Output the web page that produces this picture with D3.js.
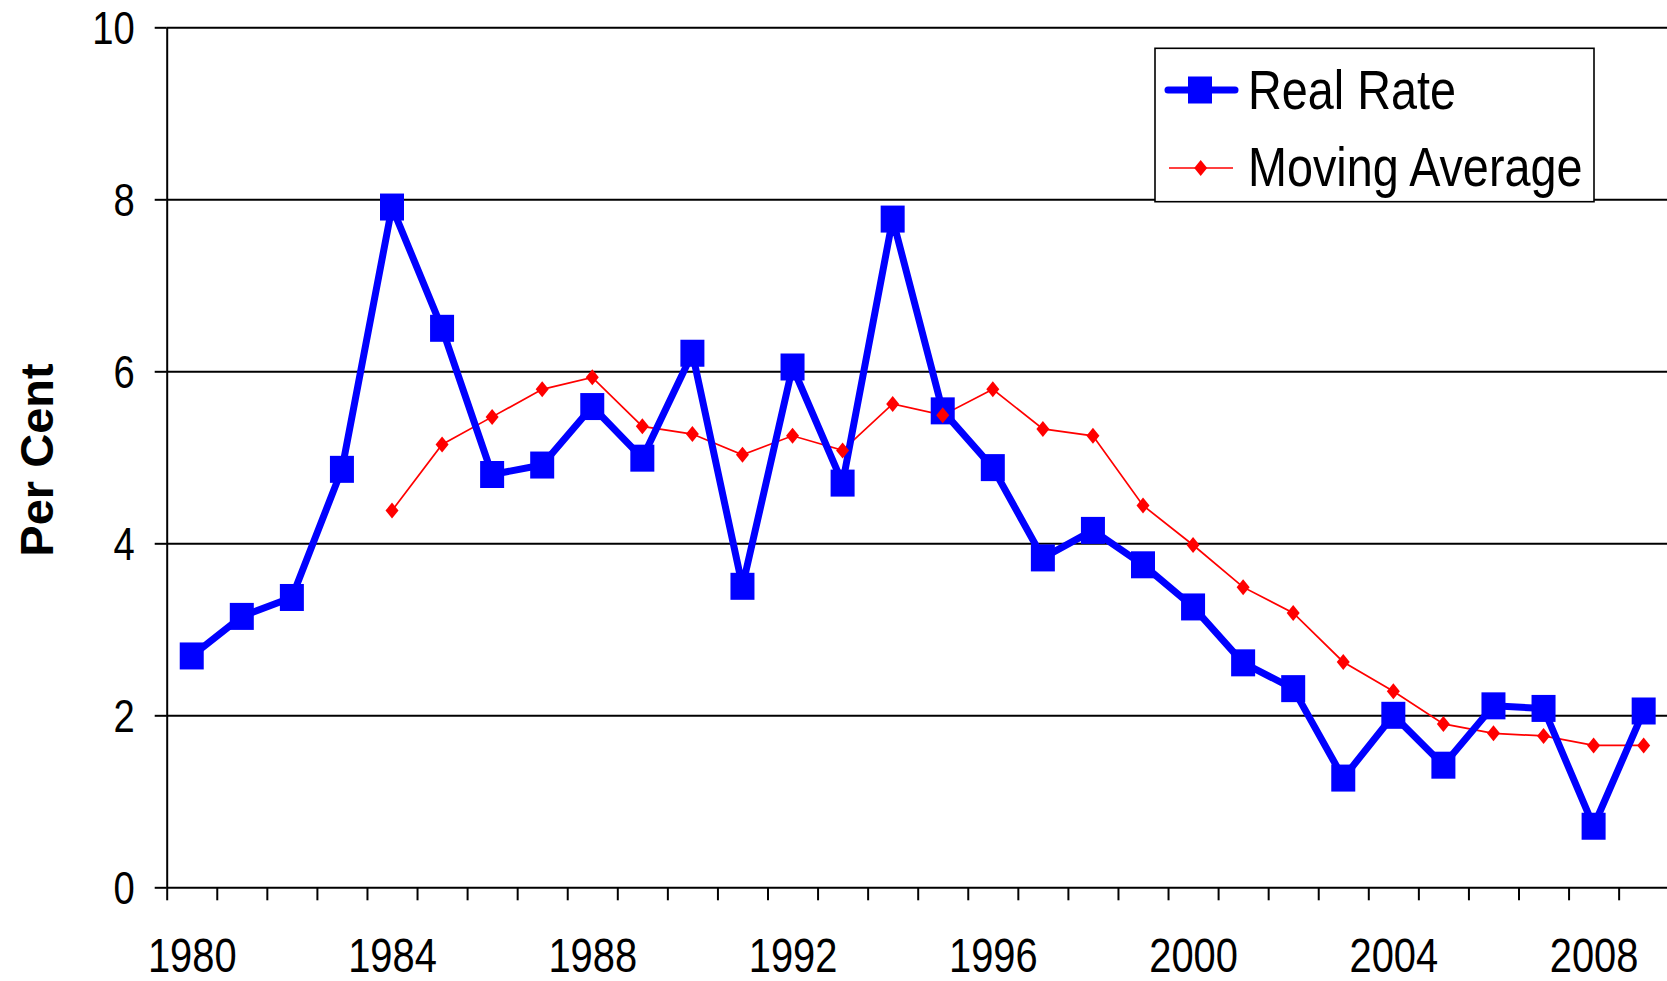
<!DOCTYPE html>
<html>
<head>
<meta charset="utf-8">
<script src="https://cdn.jsdelivr.net/npm/d3@7"></script>
<style>
  body { margin: 0; background: #fff; }
  .tick text { font-family: 'Liberation Sans Narrow', 'Liberation Sans', Arial, sans-serif; fill: #000; }
  .legend text { font-family: 'Liberation Sans Narrow', 'Liberation Sans', Arial, sans-serif; }
</style>
</head>
<body>
<div id="chart"></div>
<script>
const years = d3.range(1980, 2010);
const realRate = [2.69, 3.15, 3.37, 4.86, 7.91, 6.50, 4.80, 4.91, 5.59, 4.99,
                  6.21, 3.50, 6.05, 4.70, 7.77, 5.54, 4.88, 3.83, 4.15, 3.75,
                  3.26, 2.61, 2.31, 1.27, 2.00, 1.42, 2.11, 2.08, 0.71, 2.05];
const maYears = d3.range(1984, 2010);
const movingAvg = [4.38, 5.15, 5.47, 5.79, 5.93, 5.36, 5.27, 5.03, 5.25, 5.08,
                   5.62, 5.49, 5.79, 5.33, 5.25, 4.44, 3.98, 3.49, 3.19, 2.62,
                   2.28, 1.90, 1.79, 1.76, 1.65, 1.65];
const yTicks = [0, 2, 4, 6, 8, 10];
const xLabels = [1980, 1984, 1988, 1992, 1996, 2000, 2004, 2008];

const W = 1667, H = 981;
const margin = {top: 27.3, right: 0, bottom: 94, left: 166.7};
const width = 1502;
const height = 860;

// squeeze text horizontally to mimic a narrow face
function narrow(sel, k = 0.83) {
  sel.each(function() {
    const len = this.getComputedTextLength();
    d3.select(this)
      .attr('textLength', len * k)
      .attr('lengthAdjust', 'spacingAndGlyphs');
  });
}

const svg = d3.select('#chart').append('svg')
  .attr('width', W)
  .attr('height', H);

const g = svg.append('g')
  .attr('transform', `translate(${margin.left},${margin.top})`);

const x = d3.scaleLinear().domain([1979.5, 2009.5]).range([0, width]);
const y = d3.scaleLinear().domain([0, 10]).range([height, 0]);

// gridlines
g.append('g')
  .attr('class', 'grid')
  .call(d3.axisLeft(y).tickValues(yTicks.slice(1)).tickSize(-width).tickFormat(''))
  .call(s => s.select('.domain').remove())
  .selectAll('line')
    .attr('stroke', '#000')
    .attr('stroke-width', 2);

// y axis
g.append('g')
  .call(d3.axisLeft(y).tickValues(yTicks).tickSize(12).tickSizeOuter(0).tickPadding(20))
  .call(s => s.select('.domain').attr('stroke-width', 2))
  .call(s => s.selectAll('.tick line').attr('stroke-width', 2))
  .call(s => s.selectAll('.tick text').attr('font-size', 46).attr('dy', '0.36em').call(narrow));

// x axis ticks at category boundaries
g.append('g')
  .attr('transform', `translate(0,${height})`)
  .call(d3.axisBottom(x).tickValues(d3.range(1979.5, 2010, 1)).tickSize(13).tickSizeOuter(0).tickFormat(''))
  .call(s => s.select('.domain').attr('stroke-width', 2))
  .call(s => s.selectAll('.tick line').attr('stroke-width', 2));

// x labels
g.append('g')
  .attr('transform', `translate(0,${height})`)
  .call(d3.axisBottom(x).tickValues(xLabels).tickSize(0).tickFormat(d3.format('d')))
  .call(s => s.select('.domain').remove())
  .selectAll('text')
    .attr('font-size', 48)
    .attr('y', 85)
    .attr('dy', 0)
    .call(narrow);

// y title
svg.append('text')
  .attr('transform', 'translate(53,460) rotate(-90)')
  .attr('text-anchor', 'middle')
  .attr('font-family', "'Liberation Sans', Arial, sans-serif")
  .attr('font-weight', 'bold')
  .attr('font-size', 47)
  .text('Per Cent');

const realData = years.map((yr, i) => ({yr, v: realRate[i]}));
const maData = maYears.map((yr, i) => ({yr, v: movingAvg[i]}));

const line = d3.line().x(d => x(d.yr)).y(d => y(d.v));

const diamond = 'M0,-8L6.5,0L0,8L-6.5,0Z';

// moving average
g.append('path')
  .datum(maData)
  .attr('fill', 'none')
  .attr('stroke', '#ff0000')
  .attr('stroke-width', 1.7)
  .attr('d', line);

// real rate
g.append('path')
  .datum(realData)
  .attr('fill', 'none')
  .attr('stroke', '#0000ff')
  .attr('stroke-width', 7)
  .attr('stroke-linejoin', 'round')
  .attr('d', line);

g.selectAll('.sq')
  .data(realData)
  .enter().append('rect')
    .attr('class', 'sq')
    .attr('x', d => x(d.yr) - 12)
    .attr('y', d => y(d.v) - 13.5)
    .attr('width', 24)
    .attr('height', 27)
    .attr('fill', '#0000ff');

g.selectAll('.dm')
  .data(maData)
  .enter().append('path')
    .attr('class', 'dm')
    .attr('transform', d => `translate(${x(d.yr)},${y(d.v)})`)
    .attr('d', diamond)
    .attr('fill', '#ff0000');

// legend
const legend = svg.append('g').attr('class', 'legend');
legend.append('rect')
  .attr('x', 1155)
  .attr('y', 48.3)
  .attr('width', 439)
  .attr('height', 153.4)
  .attr('fill', '#fff')
  .attr('stroke', '#000')
  .attr('stroke-width', 1.6);

legend.append('line')
  .attr('x1', 1168).attr('x2', 1235)
  .attr('y1', 90).attr('y2', 90)
  .attr('stroke', '#0000ff')
  .attr('stroke-width', 7)
  .attr('stroke-linecap', 'round');
legend.append('rect')
  .attr('x', 1188).attr('y', 76.5)
  .attr('width', 24).attr('height', 27)
  .attr('fill', '#0000ff');
legend.append('text')
  .attr('x', 1248).attr('y', 109)
  .attr('font-size', 56)
  .text('Real Rate')
  .call(narrow, 0.835);

legend.append('line')
  .attr('x1', 1169).attr('x2', 1233)
  .attr('y1', 168).attr('y2', 168)
  .attr('stroke', '#ff0000')
  .attr('stroke-width', 1.7);
legend.append('path')
  .attr('transform', 'translate(1200.7,168)')
  .attr('d', diamond)
  .attr('fill', '#ff0000');
legend.append('text')
  .attr('x', 1248).attr('y', 186)
  .attr('font-size', 56)
  .text('Moving Average')
  .call(narrow, 0.835);
</script>
</body>
</html>
